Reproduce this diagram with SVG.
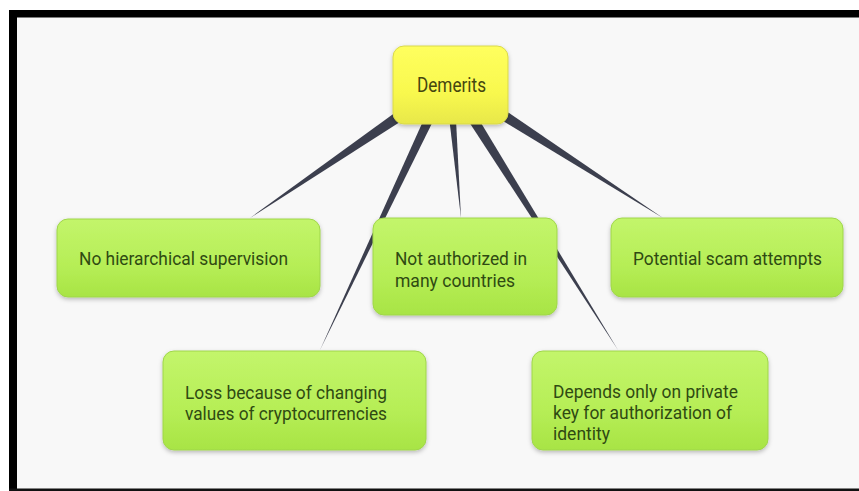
<svg xmlns="http://www.w3.org/2000/svg" width="859" height="491" viewBox="0 0 859 491">
  <defs>
    <linearGradient id="gGreen" x1="0" y1="0" x2="0" y2="1">
      <stop offset="0" stop-color="#c3f56b"/>
      <stop offset="0.6" stop-color="#b6ee56"/>
      <stop offset="1" stop-color="#a8e445"/>
    </linearGradient>
    <linearGradient id="gYellow" x1="0" y1="0" x2="0" y2="1">
      <stop offset="0" stop-color="#ffff5e"/>
      <stop offset="0.6" stop-color="#f8f84e"/>
      <stop offset="1" stop-color="#e8e84a"/>
    </linearGradient>
    <filter id="shadow" x="-10%" y="-10%" width="120%" height="130%">
      <feDropShadow dx="0" dy="2" stdDeviation="2" flood-color="#000" flood-opacity="0.25"/>
    </filter>
  </defs>
  <style>
    .green { fill: url(#gGreen); stroke: #9fd64a; stroke-width: 1; filter: url(#shadow); }
    .yellow { fill: url(#gYellow); stroke: #d9d94a; stroke-width: 1; filter: url(#shadow); }
    .lbl { font-family: Roboto, "Liberation Sans", sans-serif; font-size: 18px; fill: #2f4a12; }
    .ylbl { font-family: Roboto, "Liberation Sans", sans-serif; font-size: 20px; fill: #45450f; }
    .wedge { fill: #3c3f4e; }
  </style>
  <rect x="0" y="0" width="859" height="491" fill="#ffffff"/>
  <rect x="13" y="13" width="846" height="476" fill="#f8f8f8"/>
  <rect x="9" y="10" width="850" height="7.5" fill="#000"/>
  <rect x="9" y="10" width="8" height="481" fill="#000"/>
  <rect x="9" y="488.5" width="850" height="2.5" fill="#111"/>

  <g id="connectors">
    <polygon class="wedge" points="418,96 428,104 250,218"/>
    <polygon class="wedge" points="433,99 443,101 320,350"/>
    <polygon class="wedge" points="447,100 455,100 461,218"/>
    <polygon class="wedge" points="456,102 466,98 618,350"/>
    <polygon class="wedge" points="475,104 484,96 663,218"/>
  </g>

  <g id="demerits">
    <rect class="yellow" x="393" y="46" width="115" height="78" rx="11"/>
    <text class="ylbl" x="417" y="92" textLength="69" lengthAdjust="spacingAndGlyphs">Demerits</text>
  </g>

  <g id="no-hierarchical">
    <rect class="green" x="57" y="219" width="263" height="78" rx="11"/>
    <text class="lbl" x="79" y="265" textLength="209" lengthAdjust="spacingAndGlyphs">No hierarchical supervision</text>
  </g>

  <g id="not-authorized">
    <rect class="green" x="373" y="218" width="184" height="97" rx="11"/>
    <text class="lbl" x="395" y="265" textLength="132" lengthAdjust="spacingAndGlyphs">Not authorized in</text>
    <text class="lbl" x="395" y="287" textLength="120" lengthAdjust="spacingAndGlyphs">many countries</text>
  </g>

  <g id="potential-scam">
    <rect class="green" x="611" y="218" width="232" height="79" rx="11"/>
    <text class="lbl" x="633" y="265" textLength="189" lengthAdjust="spacingAndGlyphs">Potential scam attempts</text>
  </g>

  <g id="loss">
    <rect class="green" x="163" y="351" width="263" height="99" rx="11"/>
    <text class="lbl" x="185" y="399" textLength="202" lengthAdjust="spacingAndGlyphs">Loss because of changing</text>
    <text class="lbl" x="185" y="420" textLength="202" lengthAdjust="spacingAndGlyphs">values of cryptocurrencies</text>
  </g>

  <g id="depends">
    <rect class="green" x="532" y="351" width="236" height="99" rx="11"/>
    <text class="lbl" x="553" y="398" textLength="185" lengthAdjust="spacingAndGlyphs">Depends only on private</text>
    <text class="lbl" x="553" y="419" textLength="179" lengthAdjust="spacingAndGlyphs">key for authorization of</text>
    <text class="lbl" x="553" y="440" textLength="57" lengthAdjust="spacingAndGlyphs">identity</text>
  </g>
</svg>
